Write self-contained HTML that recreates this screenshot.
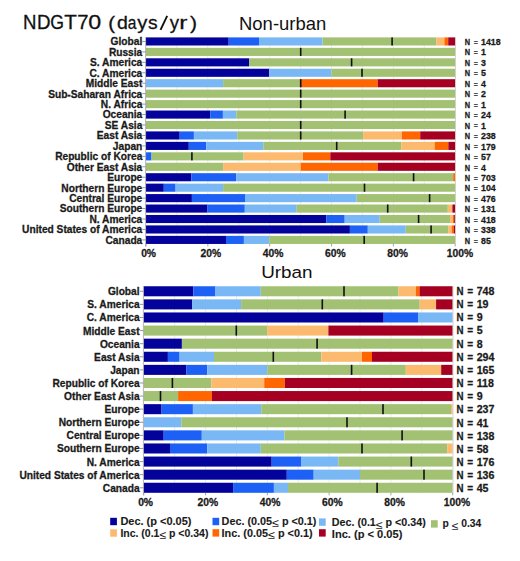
<!DOCTYPE html>
<html><head><meta charset="utf-8"><title>NDGT70</title>
<style>html,body{margin:0;padding:0;background:#fff;}svg{display:block;}
text{font-family:"Liberation Sans",sans-serif;}
text[font-weight="bold"]{stroke:#1a1a1a;stroke-width:0.28px;}
text.lg{stroke-width:0.1px;}</style></head>
<body>
<svg width="520" height="561" viewBox="0 0 520 561" font-family="Liberation Sans, sans-serif">
<rect width="520" height="561" fill="#fff"/>
<text transform="translate(23.07 28.95) scale(0.9548 1.0000)" font-size="19.5" fill="#111" stroke="#111" stroke-width="0.3">N</text>
<text transform="translate(36.96 28.95) scale(0.9611 1.0000)" font-size="19.5" fill="#111" stroke="#111" stroke-width="0.3">D</text>
<text transform="translate(50.31 28.95) scale(0.9034 1.0000)" font-size="19.5" fill="#111" stroke="#111" stroke-width="0.3">G</text>
<text transform="translate(64.14 28.95) scale(1.0521 1.0000)" font-size="19.5" fill="#111" stroke="#111" stroke-width="0.3">T</text>
<text transform="translate(77.26 28.95) scale(1.0378 1.0000)" font-size="19.5" fill="#111" stroke="#111" stroke-width="0.3">7</text>
<text transform="translate(88.29 28.95) scale(1.1908 1.0000)" font-size="19.5" fill="#111" stroke="#111" stroke-width="0.3">0</text>
<text transform="translate(108.34 28.65) scale(1.0445 0.9740)" font-size="19.5" fill="#111" stroke="#111" stroke-width="0.3">(</text>
<text transform="translate(116.88 28.95) scale(1.0035 0.9600)" font-size="19.5" fill="#111" stroke="#111" stroke-width="0.3">d</text>
<text transform="translate(127.84 28.95) scale(0.7987 0.9600)" font-size="19.5" fill="#111" stroke="#111" stroke-width="0.3">a</text>
<text transform="translate(137.25 29.2) scale(1.0347 0.9700)" font-size="19.5" fill="#111" stroke="#111" stroke-width="0.3">y</text>
<text transform="translate(148.06 28.95) scale(0.9879 0.9600)" font-size="19.5" fill="#111" stroke="#111" stroke-width="0.3">s</text>
<text transform="translate(169.65 29.2) scale(0.9520 0.9700)" font-size="19.5" fill="#111" stroke="#111" stroke-width="0.3">y</text>
<text transform="translate(179.28 28.95) scale(1.2513 0.9600)" font-size="19.5" fill="#111" stroke="#111" stroke-width="0.3">r</text>
<text transform="translate(189.88 28.65) scale(1.0831 0.9740)" font-size="19.5" fill="#111" stroke="#111" stroke-width="0.3">)</text>
<line x1="160.5" y1="29.9" x2="167.2" y2="15.9" stroke="#111" stroke-width="1.9"/>
<text x="239" y="29.9" font-size="17.9" textLength="87.3" lengthAdjust="spacingAndGlyphs" fill="#111">Non-urban</text>
<text x="261.2" y="277.9" font-size="17.4" textLength="51.4" lengthAdjust="spacingAndGlyphs" fill="#111">Urban</text>
<line x1="176.92" y1="37.4" x2="176.92" y2="243.96" stroke="#ebebeb" stroke-width="1"/>
<line x1="207.84" y1="37.4" x2="207.84" y2="243.96" stroke="#ebebeb" stroke-width="1"/>
<line x1="238.76" y1="37.4" x2="238.76" y2="243.96" stroke="#ebebeb" stroke-width="1"/>
<line x1="269.68" y1="37.4" x2="269.68" y2="243.96" stroke="#ebebeb" stroke-width="1"/>
<line x1="300.6" y1="37.4" x2="300.6" y2="243.96" stroke="#ebebeb" stroke-width="1"/>
<line x1="331.52" y1="37.4" x2="331.52" y2="243.96" stroke="#ebebeb" stroke-width="1"/>
<line x1="362.44" y1="37.4" x2="362.44" y2="243.96" stroke="#ebebeb" stroke-width="1"/>
<line x1="393.36" y1="37.4" x2="393.36" y2="243.96" stroke="#ebebeb" stroke-width="1"/>
<line x1="424.28" y1="37.4" x2="424.28" y2="243.96" stroke="#ebebeb" stroke-width="1"/>
<rect x="146" y="37.4" width="82.7" height="8.1" fill="#03039c"/>
<rect x="228.7" y="37.4" width="30.3" height="8.1" fill="#1c60f5"/>
<rect x="259" y="37.4" width="63.5" height="8.1" fill="#7ab8f5"/>
<rect x="322.5" y="37.4" width="114" height="8.1" fill="#a2c173"/>
<rect x="436.5" y="37.4" width="7.9" height="8.1" fill="#fcba6e"/>
<rect x="444.4" y="37.4" width="3.8" height="8.1" fill="#ff6600"/>
<rect x="448.2" y="37.4" width="7" height="8.1" fill="#a50021"/>
<rect x="391.3" y="37.4" width="1.6" height="8.1" fill="#111"/>
<line x1="142.3" y1="41.45" x2="146" y2="41.45" stroke="#8c8c8c" stroke-width="0.9"/>
<text x="142.3" y="45.35" font-size="10.2" font-weight="bold" text-anchor="end" fill="#1a1a1a">Global</text>
<text transform="translate(464.8 44.9) scale(0.84 1)" font-size="8.8" font-weight="bold" fill="#1a1a1a">N</text>
<text transform="translate(473.7 44.7) scale(0.8 1)" font-size="8.8" fill="#1a1a1a" stroke="#1a1a1a" stroke-width="0.25">=</text>
<text x="481.05" y="44.9" font-size="8.8" font-weight="bold" fill="#1a1a1a">1418</text>
<rect x="146" y="47.84" width="309.2" height="8.1" fill="#a2c173"/>
<rect x="299.9" y="47.84" width="1.6" height="8.1" fill="#111"/>
<line x1="142.3" y1="51.89" x2="146" y2="51.89" stroke="#8c8c8c" stroke-width="0.9"/>
<text x="142.3" y="55.79" font-size="10.2" font-weight="bold" text-anchor="end" fill="#1a1a1a">Russia</text>
<text transform="translate(464.8 55.37) scale(0.84 1)" font-size="8.8" font-weight="bold" fill="#1a1a1a">N</text>
<text transform="translate(473.7 55.17) scale(0.8 1)" font-size="8.8" fill="#1a1a1a" stroke="#1a1a1a" stroke-width="0.25">=</text>
<text x="481.05" y="55.37" font-size="8.8" font-weight="bold" fill="#1a1a1a">1</text>
<rect x="146" y="58.29" width="103" height="8.1" fill="#03039c"/>
<rect x="249" y="58.29" width="206.2" height="8.1" fill="#a2c173"/>
<rect x="350.8" y="58.29" width="1.6" height="8.1" fill="#111"/>
<line x1="142.3" y1="62.34" x2="146" y2="62.34" stroke="#8c8c8c" stroke-width="0.9"/>
<text x="142.3" y="66.24" font-size="10.2" font-weight="bold" text-anchor="end" fill="#1a1a1a">S. America</text>
<text transform="translate(464.8 65.84) scale(0.84 1)" font-size="8.8" font-weight="bold" fill="#1a1a1a">N</text>
<text transform="translate(473.7 65.64) scale(0.8 1)" font-size="8.8" fill="#1a1a1a" stroke="#1a1a1a" stroke-width="0.25">=</text>
<text x="481.05" y="65.84" font-size="8.8" font-weight="bold" fill="#1a1a1a">3</text>
<rect x="146" y="68.73" width="123.2" height="8.1" fill="#03039c"/>
<rect x="269.2" y="68.73" width="62.2" height="8.1" fill="#7ab8f5"/>
<rect x="331.4" y="68.73" width="123.8" height="8.1" fill="#a2c173"/>
<rect x="361.2" y="68.73" width="1.6" height="8.1" fill="#111"/>
<line x1="142.3" y1="72.78" x2="146" y2="72.78" stroke="#8c8c8c" stroke-width="0.9"/>
<text x="142.3" y="76.69" font-size="10.2" font-weight="bold" text-anchor="end" fill="#1a1a1a">C. America</text>
<text transform="translate(464.8 76.31) scale(0.84 1)" font-size="8.8" font-weight="bold" fill="#1a1a1a">N</text>
<text transform="translate(473.7 76.11) scale(0.8 1)" font-size="8.8" fill="#1a1a1a" stroke="#1a1a1a" stroke-width="0.25">=</text>
<text x="481.05" y="76.31" font-size="8.8" font-weight="bold" fill="#1a1a1a">5</text>
<rect x="146" y="79.18" width="77.1" height="8.1" fill="#7ab8f5"/>
<rect x="223.1" y="79.18" width="77.6" height="8.1" fill="#a2c173"/>
<rect x="300.7" y="79.18" width="77" height="8.1" fill="#ff6600"/>
<rect x="377.7" y="79.18" width="77.5" height="8.1" fill="#a50021"/>
<rect x="299.9" y="79.18" width="1.6" height="8.1" fill="#111"/>
<line x1="142.3" y1="83.23" x2="146" y2="83.23" stroke="#8c8c8c" stroke-width="0.9"/>
<text x="142.3" y="87.13" font-size="10.2" font-weight="bold" text-anchor="end" fill="#1a1a1a">Middle East</text>
<text transform="translate(464.8 86.78) scale(0.84 1)" font-size="8.8" font-weight="bold" fill="#1a1a1a">N</text>
<text transform="translate(473.7 86.58) scale(0.8 1)" font-size="8.8" fill="#1a1a1a" stroke="#1a1a1a" stroke-width="0.25">=</text>
<text x="481.05" y="86.78" font-size="8.8" font-weight="bold" fill="#1a1a1a">4</text>
<rect x="146" y="89.62" width="309.2" height="8.1" fill="#a2c173"/>
<rect x="299.9" y="89.62" width="1.6" height="8.1" fill="#111"/>
<line x1="142.3" y1="93.67" x2="146" y2="93.67" stroke="#8c8c8c" stroke-width="0.9"/>
<text x="142.3" y="97.58" font-size="10.2" font-weight="bold" text-anchor="end" fill="#1a1a1a">Sub-Saharan Africa</text>
<text transform="translate(464.8 97.25) scale(0.84 1)" font-size="8.8" font-weight="bold" fill="#1a1a1a">N</text>
<text transform="translate(473.7 97.05) scale(0.8 1)" font-size="8.8" fill="#1a1a1a" stroke="#1a1a1a" stroke-width="0.25">=</text>
<text x="481.05" y="97.25" font-size="8.8" font-weight="bold" fill="#1a1a1a">2</text>
<rect x="146" y="100.07" width="309.2" height="8.1" fill="#a2c173"/>
<rect x="299.9" y="100.07" width="1.6" height="8.1" fill="#111"/>
<line x1="142.3" y1="104.12" x2="146" y2="104.12" stroke="#8c8c8c" stroke-width="0.9"/>
<text x="142.3" y="108.02" font-size="10.2" font-weight="bold" text-anchor="end" fill="#1a1a1a">N. Africa</text>
<text transform="translate(464.8 107.72) scale(0.84 1)" font-size="8.8" font-weight="bold" fill="#1a1a1a">N</text>
<text transform="translate(473.7 107.52) scale(0.8 1)" font-size="8.8" fill="#1a1a1a" stroke="#1a1a1a" stroke-width="0.25">=</text>
<text x="481.05" y="107.72" font-size="8.8" font-weight="bold" fill="#1a1a1a">1</text>
<rect x="146" y="110.52" width="64.2" height="8.1" fill="#03039c"/>
<rect x="210.2" y="110.52" width="12.7" height="8.1" fill="#1c60f5"/>
<rect x="222.9" y="110.52" width="13.4" height="8.1" fill="#7ab8f5"/>
<rect x="236.3" y="110.52" width="218.9" height="8.1" fill="#a2c173"/>
<rect x="344.3" y="110.52" width="1.6" height="8.1" fill="#111"/>
<line x1="142.3" y1="114.57" x2="146" y2="114.57" stroke="#8c8c8c" stroke-width="0.9"/>
<text x="142.3" y="118.47" font-size="10.2" font-weight="bold" text-anchor="end" fill="#1a1a1a">Oceania</text>
<text transform="translate(464.8 118.19) scale(0.84 1)" font-size="8.8" font-weight="bold" fill="#1a1a1a">N</text>
<text transform="translate(473.7 117.99) scale(0.8 1)" font-size="8.8" fill="#1a1a1a" stroke="#1a1a1a" stroke-width="0.25">=</text>
<text x="481.05" y="118.19" font-size="8.8" font-weight="bold" fill="#1a1a1a">24</text>
<rect x="146" y="120.96" width="309.2" height="8.1" fill="#a2c173"/>
<rect x="299.9" y="120.96" width="1.6" height="8.1" fill="#111"/>
<line x1="142.3" y1="125.01" x2="146" y2="125.01" stroke="#8c8c8c" stroke-width="0.9"/>
<text x="142.3" y="128.91" font-size="10.2" font-weight="bold" text-anchor="end" fill="#1a1a1a">SE Asia</text>
<text transform="translate(464.8 128.66) scale(0.84 1)" font-size="8.8" font-weight="bold" fill="#1a1a1a">N</text>
<text transform="translate(473.7 128.46) scale(0.8 1)" font-size="8.8" fill="#1a1a1a" stroke="#1a1a1a" stroke-width="0.25">=</text>
<text x="481.05" y="128.66" font-size="8.8" font-weight="bold" fill="#1a1a1a">1</text>
<rect x="146" y="131.41" width="33.7" height="8.1" fill="#03039c"/>
<rect x="179.7" y="131.41" width="14.2" height="8.1" fill="#1c60f5"/>
<rect x="193.9" y="131.41" width="43.3" height="8.1" fill="#7ab8f5"/>
<rect x="237.2" y="131.41" width="125.9" height="8.1" fill="#a2c173"/>
<rect x="363.1" y="131.41" width="38.7" height="8.1" fill="#fcba6e"/>
<rect x="401.8" y="131.41" width="18.4" height="8.1" fill="#ff6600"/>
<rect x="420.2" y="131.41" width="35" height="8.1" fill="#a50021"/>
<rect x="299.9" y="131.41" width="1.6" height="8.1" fill="#111"/>
<line x1="142.3" y1="135.46" x2="146" y2="135.46" stroke="#8c8c8c" stroke-width="0.9"/>
<text x="142.3" y="139.36" font-size="10.2" font-weight="bold" text-anchor="end" fill="#1a1a1a">East Asia</text>
<text transform="translate(464.8 139.13) scale(0.84 1)" font-size="8.8" font-weight="bold" fill="#1a1a1a">N</text>
<text transform="translate(473.7 138.93) scale(0.8 1)" font-size="8.8" fill="#1a1a1a" stroke="#1a1a1a" stroke-width="0.25">=</text>
<text x="481.05" y="139.13" font-size="8.8" font-weight="bold" fill="#1a1a1a">238</text>
<rect x="146" y="141.85" width="42.8" height="8.1" fill="#03039c"/>
<rect x="188.8" y="141.85" width="17.4" height="8.1" fill="#1c60f5"/>
<rect x="206.2" y="141.85" width="57.1" height="8.1" fill="#7ab8f5"/>
<rect x="263.3" y="141.85" width="138.1" height="8.1" fill="#a2c173"/>
<rect x="401.4" y="141.85" width="33.2" height="8.1" fill="#fcba6e"/>
<rect x="434.6" y="141.85" width="13.7" height="8.1" fill="#ff6600"/>
<rect x="448.3" y="141.85" width="6.9" height="8.1" fill="#a50021"/>
<rect x="335.9" y="141.85" width="1.6" height="8.1" fill="#111"/>
<line x1="142.3" y1="145.9" x2="146" y2="145.9" stroke="#8c8c8c" stroke-width="0.9"/>
<text x="142.3" y="149.8" font-size="10.2" font-weight="bold" text-anchor="end" fill="#1a1a1a">Japan</text>
<text transform="translate(464.8 149.6) scale(0.84 1)" font-size="8.8" font-weight="bold" fill="#1a1a1a">N</text>
<text transform="translate(473.7 149.4) scale(0.8 1)" font-size="8.8" fill="#1a1a1a" stroke="#1a1a1a" stroke-width="0.25">=</text>
<text x="481.05" y="149.6" font-size="8.8" font-weight="bold" fill="#1a1a1a">179</text>
<rect x="146" y="152.3" width="5.5" height="8.1" fill="#1c60f5"/>
<rect x="151.5" y="152.3" width="92.1" height="8.1" fill="#a2c173"/>
<rect x="243.6" y="152.3" width="59.4" height="8.1" fill="#fcba6e"/>
<rect x="303" y="152.3" width="27.3" height="8.1" fill="#ff6600"/>
<rect x="330.3" y="152.3" width="124.9" height="8.1" fill="#a50021"/>
<rect x="191.1" y="152.3" width="1.6" height="8.1" fill="#111"/>
<line x1="142.3" y1="156.35" x2="146" y2="156.35" stroke="#8c8c8c" stroke-width="0.9"/>
<text x="142.3" y="160.25" font-size="10.2" font-weight="bold" text-anchor="end" fill="#1a1a1a">Republic of Korea</text>
<text transform="translate(464.8 160.07) scale(0.84 1)" font-size="8.8" font-weight="bold" fill="#1a1a1a">N</text>
<text transform="translate(473.7 159.87) scale(0.8 1)" font-size="8.8" fill="#1a1a1a" stroke="#1a1a1a" stroke-width="0.25">=</text>
<text x="481.05" y="160.07" font-size="8.8" font-weight="bold" fill="#1a1a1a">57</text>
<rect x="146" y="162.74" width="77.1" height="8.1" fill="#a2c173"/>
<rect x="223.1" y="162.74" width="77.6" height="8.1" fill="#fcba6e"/>
<rect x="300.7" y="162.74" width="77" height="8.1" fill="#ff6600"/>
<rect x="377.7" y="162.74" width="77.5" height="8.1" fill="#a50021"/>
<line x1="142.3" y1="166.79" x2="146" y2="166.79" stroke="#8c8c8c" stroke-width="0.9"/>
<text x="142.3" y="170.69" font-size="10.2" font-weight="bold" text-anchor="end" fill="#1a1a1a">Other East Asia</text>
<text transform="translate(464.8 170.54) scale(0.84 1)" font-size="8.8" font-weight="bold" fill="#1a1a1a">N</text>
<text transform="translate(473.7 170.34) scale(0.8 1)" font-size="8.8" fill="#1a1a1a" stroke="#1a1a1a" stroke-width="0.25">=</text>
<text x="481.05" y="170.54" font-size="8.8" font-weight="bold" fill="#1a1a1a">4</text>
<rect x="146" y="173.19" width="45.3" height="8.1" fill="#03039c"/>
<rect x="191.3" y="173.19" width="44.8" height="8.1" fill="#1c60f5"/>
<rect x="236.1" y="173.19" width="92.3" height="8.1" fill="#7ab8f5"/>
<rect x="328.4" y="173.19" width="124.8" height="8.1" fill="#a2c173"/>
<rect x="453.2" y="173.19" width="2" height="8.1" fill="#ff6600"/>
<rect x="412.8" y="173.19" width="1.6" height="8.1" fill="#111"/>
<line x1="142.3" y1="177.24" x2="146" y2="177.24" stroke="#8c8c8c" stroke-width="0.9"/>
<text x="142.3" y="181.14" font-size="10.2" font-weight="bold" text-anchor="end" fill="#1a1a1a">Europe</text>
<text transform="translate(464.8 181.01) scale(0.84 1)" font-size="8.8" font-weight="bold" fill="#1a1a1a">N</text>
<text transform="translate(473.7 180.81) scale(0.8 1)" font-size="8.8" fill="#1a1a1a" stroke="#1a1a1a" stroke-width="0.25">=</text>
<text x="481.05" y="181.01" font-size="8.8" font-weight="bold" fill="#1a1a1a">703</text>
<rect x="146" y="183.63" width="17.8" height="8.1" fill="#03039c"/>
<rect x="163.8" y="183.63" width="11.8" height="8.1" fill="#1c60f5"/>
<rect x="175.6" y="183.63" width="47.5" height="8.1" fill="#7ab8f5"/>
<rect x="223.1" y="183.63" width="232.1" height="8.1" fill="#a2c173"/>
<rect x="363.7" y="183.63" width="1.6" height="8.1" fill="#111"/>
<line x1="142.3" y1="187.68" x2="146" y2="187.68" stroke="#8c8c8c" stroke-width="0.9"/>
<text x="142.3" y="191.58" font-size="10.2" font-weight="bold" text-anchor="end" fill="#1a1a1a">Northern Europe</text>
<text transform="translate(464.8 191.48) scale(0.84 1)" font-size="8.8" font-weight="bold" fill="#1a1a1a">N</text>
<text transform="translate(473.7 191.28) scale(0.8 1)" font-size="8.8" fill="#1a1a1a" stroke="#1a1a1a" stroke-width="0.25">=</text>
<text x="481.05" y="191.48" font-size="8.8" font-weight="bold" fill="#1a1a1a">104</text>
<rect x="146" y="194.08" width="45.9" height="8.1" fill="#03039c"/>
<rect x="191.9" y="194.08" width="53.1" height="8.1" fill="#1c60f5"/>
<rect x="245" y="194.08" width="111.7" height="8.1" fill="#7ab8f5"/>
<rect x="356.7" y="194.08" width="98.5" height="8.1" fill="#a2c173"/>
<rect x="428.8" y="194.08" width="1.6" height="8.1" fill="#111"/>
<line x1="142.3" y1="198.13" x2="146" y2="198.13" stroke="#8c8c8c" stroke-width="0.9"/>
<text x="142.3" y="202.03" font-size="10.2" font-weight="bold" text-anchor="end" fill="#1a1a1a">Central Europe</text>
<text transform="translate(464.8 201.95) scale(0.84 1)" font-size="8.8" font-weight="bold" fill="#1a1a1a">N</text>
<text transform="translate(473.7 201.75) scale(0.8 1)" font-size="8.8" fill="#1a1a1a" stroke="#1a1a1a" stroke-width="0.25">=</text>
<text x="481.05" y="201.95" font-size="8.8" font-weight="bold" fill="#1a1a1a">476</text>
<rect x="146" y="204.52" width="61.2" height="8.1" fill="#03039c"/>
<rect x="207.2" y="204.52" width="37.6" height="8.1" fill="#1c60f5"/>
<rect x="244.8" y="204.52" width="51.9" height="8.1" fill="#7ab8f5"/>
<rect x="296.7" y="204.52" width="151.1" height="8.1" fill="#a2c173"/>
<rect x="447.8" y="204.52" width="4.6" height="8.1" fill="#fcba6e"/>
<rect x="452.4" y="204.52" width="2.8" height="8.1" fill="#a50021"/>
<rect x="386.9" y="204.52" width="1.6" height="8.1" fill="#111"/>
<line x1="142.3" y1="208.57" x2="146" y2="208.57" stroke="#8c8c8c" stroke-width="0.9"/>
<text x="142.3" y="212.47" font-size="10.2" font-weight="bold" text-anchor="end" fill="#1a1a1a">Southern Europe</text>
<text transform="translate(464.8 212.42) scale(0.84 1)" font-size="8.8" font-weight="bold" fill="#1a1a1a">N</text>
<text transform="translate(473.7 212.22) scale(0.8 1)" font-size="8.8" fill="#1a1a1a" stroke="#1a1a1a" stroke-width="0.25">=</text>
<text x="481.05" y="212.42" font-size="8.8" font-weight="bold" fill="#1a1a1a">131</text>
<rect x="146" y="214.97" width="180.3" height="8.1" fill="#03039c"/>
<rect x="326.3" y="214.97" width="18.4" height="8.1" fill="#1c60f5"/>
<rect x="344.7" y="214.97" width="35" height="8.1" fill="#7ab8f5"/>
<rect x="379.7" y="214.97" width="70.3" height="8.1" fill="#a2c173"/>
<rect x="450" y="214.97" width="2.8" height="8.1" fill="#fcba6e"/>
<rect x="452.8" y="214.97" width="1.4" height="8.1" fill="#ff6600"/>
<rect x="454.2" y="214.97" width="1" height="8.1" fill="#a50021"/>
<rect x="417.8" y="214.97" width="1.6" height="8.1" fill="#111"/>
<line x1="142.3" y1="219.02" x2="146" y2="219.02" stroke="#8c8c8c" stroke-width="0.9"/>
<text x="142.3" y="222.92" font-size="10.2" font-weight="bold" text-anchor="end" fill="#1a1a1a">N. America</text>
<text transform="translate(464.8 222.89) scale(0.84 1)" font-size="8.8" font-weight="bold" fill="#1a1a1a">N</text>
<text transform="translate(473.7 222.69) scale(0.8 1)" font-size="8.8" fill="#1a1a1a" stroke="#1a1a1a" stroke-width="0.25">=</text>
<text x="481.05" y="222.89" font-size="8.8" font-weight="bold" fill="#1a1a1a">418</text>
<rect x="146" y="225.41" width="203.9" height="8.1" fill="#03039c"/>
<rect x="349.9" y="225.41" width="17.9" height="8.1" fill="#1c60f5"/>
<rect x="367.8" y="225.41" width="38" height="8.1" fill="#7ab8f5"/>
<rect x="405.8" y="225.41" width="42.4" height="8.1" fill="#a2c173"/>
<rect x="448.2" y="225.41" width="3.5" height="8.1" fill="#fcba6e"/>
<rect x="451.7" y="225.41" width="2.2" height="8.1" fill="#ff6600"/>
<rect x="453.9" y="225.41" width="1.3" height="8.1" fill="#a50021"/>
<rect x="430.3" y="225.41" width="1.6" height="8.1" fill="#111"/>
<line x1="142.3" y1="229.46" x2="146" y2="229.46" stroke="#8c8c8c" stroke-width="0.9"/>
<text x="142.3" y="233.36" font-size="10.2" font-weight="bold" text-anchor="end" fill="#1a1a1a">United States of America</text>
<text transform="translate(464.8 233.36) scale(0.84 1)" font-size="8.8" font-weight="bold" fill="#1a1a1a">N</text>
<text transform="translate(473.7 233.16) scale(0.8 1)" font-size="8.8" fill="#1a1a1a" stroke="#1a1a1a" stroke-width="0.25">=</text>
<text x="481.05" y="233.36" font-size="8.8" font-weight="bold" fill="#1a1a1a">338</text>
<rect x="146" y="235.86" width="80" height="8.1" fill="#03039c"/>
<rect x="226" y="235.86" width="17.9" height="8.1" fill="#1c60f5"/>
<rect x="243.9" y="235.86" width="25.3" height="8.1" fill="#7ab8f5"/>
<rect x="269.2" y="235.86" width="186" height="8.1" fill="#a2c173"/>
<rect x="363.4" y="235.86" width="1.6" height="8.1" fill="#111"/>
<line x1="142.3" y1="239.91" x2="146" y2="239.91" stroke="#8c8c8c" stroke-width="0.9"/>
<text x="142.3" y="243.81" font-size="10.2" font-weight="bold" text-anchor="end" fill="#1a1a1a">Canada</text>
<text transform="translate(464.8 243.83) scale(0.84 1)" font-size="8.8" font-weight="bold" fill="#1a1a1a">N</text>
<text transform="translate(473.7 243.63) scale(0.8 1)" font-size="8.8" fill="#1a1a1a" stroke="#1a1a1a" stroke-width="0.25">=</text>
<text x="481.05" y="243.83" font-size="8.8" font-weight="bold" fill="#1a1a1a">85</text>
<line x1="145.6" y1="37.1" x2="145.6" y2="246.46" stroke="#a0a0a0" stroke-width="0.8"/>
<line x1="455.5" y1="37.4" x2="455.5" y2="243.96" stroke="#c8c8c8" stroke-width="0.8"/>
<line x1="146" y1="243.96" x2="146" y2="246.46" stroke="#9a9a9a" stroke-width="0.9"/>
<line x1="207.84" y1="243.96" x2="207.84" y2="246.46" stroke="#9a9a9a" stroke-width="0.9"/>
<line x1="269.68" y1="243.96" x2="269.68" y2="246.46" stroke="#9a9a9a" stroke-width="0.9"/>
<line x1="331.52" y1="243.96" x2="331.52" y2="246.46" stroke="#9a9a9a" stroke-width="0.9"/>
<line x1="393.36" y1="243.96" x2="393.36" y2="246.46" stroke="#9a9a9a" stroke-width="0.9"/>
<line x1="455.2" y1="243.96" x2="455.2" y2="246.46" stroke="#9a9a9a" stroke-width="0.9"/>
<text x="148.6" y="256.6" font-size="10.3" font-weight="bold" text-anchor="middle" fill="#1a1a1a">0%</text>
<text x="210.86" y="256.6" font-size="10.3" font-weight="bold" text-anchor="middle" fill="#1a1a1a">20%</text>
<text x="273.12" y="256.6" font-size="10.3" font-weight="bold" text-anchor="middle" fill="#1a1a1a">40%</text>
<text x="335.38" y="256.6" font-size="10.3" font-weight="bold" text-anchor="middle" fill="#1a1a1a">60%</text>
<text x="397.64" y="256.6" font-size="10.3" font-weight="bold" text-anchor="middle" fill="#1a1a1a">80%</text>
<text x="459.9" y="256.6" font-size="10.3" font-weight="bold" text-anchor="middle" fill="#1a1a1a">100%</text>
<line x1="174.69" y1="286.25" x2="174.69" y2="492.8" stroke="#ebebeb" stroke-width="1"/>
<line x1="205.58" y1="286.25" x2="205.58" y2="492.8" stroke="#ebebeb" stroke-width="1"/>
<line x1="236.47" y1="286.25" x2="236.47" y2="492.8" stroke="#ebebeb" stroke-width="1"/>
<line x1="267.36" y1="286.25" x2="267.36" y2="492.8" stroke="#ebebeb" stroke-width="1"/>
<line x1="298.25" y1="286.25" x2="298.25" y2="492.8" stroke="#ebebeb" stroke-width="1"/>
<line x1="329.14" y1="286.25" x2="329.14" y2="492.8" stroke="#ebebeb" stroke-width="1"/>
<line x1="360.03" y1="286.25" x2="360.03" y2="492.8" stroke="#ebebeb" stroke-width="1"/>
<line x1="390.92" y1="286.25" x2="390.92" y2="492.8" stroke="#ebebeb" stroke-width="1"/>
<line x1="421.81" y1="286.25" x2="421.81" y2="492.8" stroke="#ebebeb" stroke-width="1"/>
<rect x="143.8" y="286.25" width="49.5" height="10.05" fill="#03039c"/>
<rect x="193.3" y="286.25" width="22.2" height="10.05" fill="#1c60f5"/>
<rect x="215.5" y="286.25" width="45.3" height="10.05" fill="#7ab8f5"/>
<rect x="260.8" y="286.25" width="137.7" height="10.05" fill="#a2c173"/>
<rect x="398.5" y="286.25" width="17.3" height="10.05" fill="#fcba6e"/>
<rect x="415.8" y="286.25" width="3.7" height="10.05" fill="#ff6600"/>
<rect x="419.5" y="286.25" width="33.2" height="10.05" fill="#a50021"/>
<rect x="343.2" y="286.25" width="1.6" height="10.05" fill="#111"/>
<line x1="140" y1="291.27" x2="143.8" y2="291.27" stroke="#8c8c8c" stroke-width="0.9"/>
<text x="139.6" y="295.27" font-size="10.2" font-weight="bold" text-anchor="end" fill="#1a1a1a">Global</text>
<text transform="translate(456.45 294.85) scale(0.92 1)" font-size="10.6" font-weight="bold" fill="#1a1a1a">N</text>
<text transform="translate(467.18 294.85) scale(0.95 1)" font-size="10.6" font-weight="bold" fill="#1a1a1a">=</text>
<text x="476.72" y="294.85" font-size="10.6" font-weight="bold" fill="#1a1a1a">748</text>
<rect x="143.8" y="299.35" width="48.5" height="10.05" fill="#03039c"/>
<rect x="192.3" y="299.35" width="48.8" height="10.05" fill="#7ab8f5"/>
<rect x="241.1" y="299.35" width="178.6" height="10.05" fill="#a2c173"/>
<rect x="419.7" y="299.35" width="16.4" height="10.05" fill="#fcba6e"/>
<rect x="436.1" y="299.35" width="16.6" height="10.05" fill="#a50021"/>
<rect x="321.5" y="299.35" width="1.6" height="10.05" fill="#111"/>
<line x1="140" y1="304.38" x2="143.8" y2="304.38" stroke="#8c8c8c" stroke-width="0.9"/>
<text x="139.6" y="308.38" font-size="10.2" font-weight="bold" text-anchor="end" fill="#1a1a1a">S. America</text>
<text transform="translate(456.45 308.02) scale(0.92 1)" font-size="10.6" font-weight="bold" fill="#1a1a1a">N</text>
<text transform="translate(467.18 308.02) scale(0.95 1)" font-size="10.6" font-weight="bold" fill="#1a1a1a">=</text>
<text x="476.72" y="308.02" font-size="10.6" font-weight="bold" fill="#1a1a1a">19</text>
<rect x="143.8" y="312.45" width="239.9" height="10.05" fill="#03039c"/>
<rect x="383.7" y="312.45" width="34.3" height="10.05" fill="#1c60f5"/>
<rect x="418" y="312.45" width="34.7" height="10.05" fill="#7ab8f5"/>
<line x1="140" y1="317.47" x2="143.8" y2="317.47" stroke="#8c8c8c" stroke-width="0.9"/>
<text x="139.6" y="321.47" font-size="10.2" font-weight="bold" text-anchor="end" fill="#1a1a1a">C. America</text>
<text transform="translate(456.45 321.18) scale(0.92 1)" font-size="10.6" font-weight="bold" fill="#1a1a1a">N</text>
<text transform="translate(467.18 321.18) scale(0.95 1)" font-size="10.6" font-weight="bold" fill="#1a1a1a">=</text>
<text x="476.72" y="321.18" font-size="10.6" font-weight="bold" fill="#1a1a1a">9</text>
<rect x="143.8" y="325.55" width="123.4" height="10.05" fill="#a2c173"/>
<rect x="267.2" y="325.55" width="61.2" height="10.05" fill="#fcba6e"/>
<rect x="328.4" y="325.55" width="124.3" height="10.05" fill="#a50021"/>
<rect x="235.5" y="325.55" width="1.6" height="10.05" fill="#111"/>
<line x1="140" y1="330.57" x2="143.8" y2="330.57" stroke="#8c8c8c" stroke-width="0.9"/>
<text x="139.6" y="334.57" font-size="10.2" font-weight="bold" text-anchor="end" fill="#1a1a1a">Middle East</text>
<text transform="translate(456.45 334.35) scale(0.92 1)" font-size="10.6" font-weight="bold" fill="#1a1a1a">N</text>
<text transform="translate(467.18 334.35) scale(0.95 1)" font-size="10.6" font-weight="bold" fill="#1a1a1a">=</text>
<text x="476.72" y="334.35" font-size="10.6" font-weight="bold" fill="#1a1a1a">5</text>
<rect x="143.8" y="338.65" width="38.1" height="10.05" fill="#03039c"/>
<rect x="181.9" y="338.65" width="270.8" height="10.05" fill="#a2c173"/>
<rect x="316.3" y="338.65" width="1.6" height="10.05" fill="#111"/>
<line x1="140" y1="343.67" x2="143.8" y2="343.67" stroke="#8c8c8c" stroke-width="0.9"/>
<text x="139.6" y="347.67" font-size="10.2" font-weight="bold" text-anchor="end" fill="#1a1a1a">Oceania</text>
<text transform="translate(456.45 347.51) scale(0.92 1)" font-size="10.6" font-weight="bold" fill="#1a1a1a">N</text>
<text transform="translate(467.18 347.51) scale(0.95 1)" font-size="10.6" font-weight="bold" fill="#1a1a1a">=</text>
<text x="476.72" y="347.51" font-size="10.6" font-weight="bold" fill="#1a1a1a">8</text>
<rect x="143.8" y="351.75" width="24.1" height="10.05" fill="#03039c"/>
<rect x="167.9" y="351.75" width="11.7" height="10.05" fill="#1c60f5"/>
<rect x="179.6" y="351.75" width="34.4" height="10.05" fill="#7ab8f5"/>
<rect x="214" y="351.75" width="107.3" height="10.05" fill="#a2c173"/>
<rect x="321.3" y="351.75" width="40.7" height="10.05" fill="#fcba6e"/>
<rect x="362" y="351.75" width="10" height="10.05" fill="#ff6600"/>
<rect x="372" y="351.75" width="80.7" height="10.05" fill="#a50021"/>
<rect x="272.5" y="351.75" width="1.6" height="10.05" fill="#111"/>
<line x1="140" y1="356.77" x2="143.8" y2="356.77" stroke="#8c8c8c" stroke-width="0.9"/>
<text x="139.6" y="360.77" font-size="10.2" font-weight="bold" text-anchor="end" fill="#1a1a1a">East Asia</text>
<text transform="translate(456.45 360.68) scale(0.92 1)" font-size="10.6" font-weight="bold" fill="#1a1a1a">N</text>
<text transform="translate(467.18 360.68) scale(0.95 1)" font-size="10.6" font-weight="bold" fill="#1a1a1a">=</text>
<text x="476.72" y="360.68" font-size="10.6" font-weight="bold" fill="#1a1a1a">294</text>
<rect x="143.8" y="364.85" width="42.7" height="10.05" fill="#03039c"/>
<rect x="186.5" y="364.85" width="20.8" height="10.05" fill="#1c60f5"/>
<rect x="207.3" y="364.85" width="59.9" height="10.05" fill="#7ab8f5"/>
<rect x="267.2" y="364.85" width="138.6" height="10.05" fill="#a2c173"/>
<rect x="405.8" y="364.85" width="35.4" height="10.05" fill="#fcba6e"/>
<rect x="441.2" y="364.85" width="11.5" height="10.05" fill="#a50021"/>
<rect x="350.8" y="364.85" width="1.6" height="10.05" fill="#111"/>
<line x1="140" y1="369.88" x2="143.8" y2="369.88" stroke="#8c8c8c" stroke-width="0.9"/>
<text x="139.6" y="373.88" font-size="10.2" font-weight="bold" text-anchor="end" fill="#1a1a1a">Japan</text>
<text transform="translate(456.45 373.84) scale(0.92 1)" font-size="10.6" font-weight="bold" fill="#1a1a1a">N</text>
<text transform="translate(467.18 373.84) scale(0.95 1)" font-size="10.6" font-weight="bold" fill="#1a1a1a">=</text>
<text x="476.72" y="373.84" font-size="10.6" font-weight="bold" fill="#1a1a1a">165</text>
<rect x="143.8" y="377.95" width="67.5" height="10.05" fill="#a2c173"/>
<rect x="211.3" y="377.95" width="52.9" height="10.05" fill="#fcba6e"/>
<rect x="264.2" y="377.95" width="20.6" height="10.05" fill="#ff6600"/>
<rect x="284.8" y="377.95" width="167.9" height="10.05" fill="#a50021"/>
<rect x="171.6" y="377.95" width="1.6" height="10.05" fill="#111"/>
<line x1="140" y1="382.97" x2="143.8" y2="382.97" stroke="#8c8c8c" stroke-width="0.9"/>
<text x="139.6" y="386.97" font-size="10.2" font-weight="bold" text-anchor="end" fill="#1a1a1a">Republic of Korea</text>
<text transform="translate(456.45 387) scale(0.92 1)" font-size="10.6" font-weight="bold" fill="#1a1a1a">N</text>
<text transform="translate(467.18 387) scale(0.95 1)" font-size="10.6" font-weight="bold" fill="#1a1a1a">=</text>
<text x="476.72" y="387" font-size="10.6" font-weight="bold" fill="#1a1a1a">118</text>
<rect x="143.8" y="391.05" width="34.3" height="10.05" fill="#a2c173"/>
<rect x="178.1" y="391.05" width="33.8" height="10.05" fill="#ff6600"/>
<rect x="211.9" y="391.05" width="240.8" height="10.05" fill="#a50021"/>
<rect x="159.7" y="391.05" width="1.6" height="10.05" fill="#111"/>
<line x1="140" y1="396.07" x2="143.8" y2="396.07" stroke="#8c8c8c" stroke-width="0.9"/>
<text x="139.6" y="400.07" font-size="10.2" font-weight="bold" text-anchor="end" fill="#1a1a1a">Other East Asia</text>
<text transform="translate(456.45 400.17) scale(0.92 1)" font-size="10.6" font-weight="bold" fill="#1a1a1a">N</text>
<text transform="translate(467.18 400.17) scale(0.95 1)" font-size="10.6" font-weight="bold" fill="#1a1a1a">=</text>
<text x="476.72" y="400.17" font-size="10.6" font-weight="bold" fill="#1a1a1a">9</text>
<rect x="143.8" y="404.15" width="17.8" height="10.05" fill="#03039c"/>
<rect x="161.6" y="404.15" width="31.3" height="10.05" fill="#1c60f5"/>
<rect x="192.9" y="404.15" width="68.3" height="10.05" fill="#7ab8f5"/>
<rect x="261.2" y="404.15" width="189.8" height="10.05" fill="#a2c173"/>
<rect x="451" y="404.15" width="1.7" height="10.05" fill="#fcba6e"/>
<rect x="382.2" y="404.15" width="1.6" height="10.05" fill="#111"/>
<line x1="140" y1="409.17" x2="143.8" y2="409.17" stroke="#8c8c8c" stroke-width="0.9"/>
<text x="139.6" y="413.17" font-size="10.2" font-weight="bold" text-anchor="end" fill="#1a1a1a">Europe</text>
<text transform="translate(456.45 413.34) scale(0.92 1)" font-size="10.6" font-weight="bold" fill="#1a1a1a">N</text>
<text transform="translate(467.18 413.34) scale(0.95 1)" font-size="10.6" font-weight="bold" fill="#1a1a1a">=</text>
<text x="476.72" y="413.34" font-size="10.6" font-weight="bold" fill="#1a1a1a">237</text>
<rect x="143.8" y="417.25" width="37.5" height="10.05" fill="#7ab8f5"/>
<rect x="181.3" y="417.25" width="271.4" height="10.05" fill="#a2c173"/>
<rect x="346.2" y="417.25" width="1.6" height="10.05" fill="#111"/>
<line x1="140" y1="422.27" x2="143.8" y2="422.27" stroke="#8c8c8c" stroke-width="0.9"/>
<text x="139.6" y="426.27" font-size="10.2" font-weight="bold" text-anchor="end" fill="#1a1a1a">Northern Europe</text>
<text transform="translate(456.45 426.5) scale(0.92 1)" font-size="10.6" font-weight="bold" fill="#1a1a1a">N</text>
<text transform="translate(467.18 426.5) scale(0.95 1)" font-size="10.6" font-weight="bold" fill="#1a1a1a">=</text>
<text x="476.72" y="426.5" font-size="10.6" font-weight="bold" fill="#1a1a1a">41</text>
<rect x="143.8" y="430.35" width="19.9" height="10.05" fill="#03039c"/>
<rect x="163.7" y="430.35" width="38.1" height="10.05" fill="#1c60f5"/>
<rect x="201.8" y="430.35" width="82.6" height="10.05" fill="#7ab8f5"/>
<rect x="284.4" y="430.35" width="168.3" height="10.05" fill="#a2c173"/>
<rect x="401.3" y="430.35" width="1.6" height="10.05" fill="#111"/>
<line x1="140" y1="435.38" x2="143.8" y2="435.38" stroke="#8c8c8c" stroke-width="0.9"/>
<text x="139.6" y="439.38" font-size="10.2" font-weight="bold" text-anchor="end" fill="#1a1a1a">Central Europe</text>
<text transform="translate(456.45 439.67) scale(0.92 1)" font-size="10.6" font-weight="bold" fill="#1a1a1a">N</text>
<text transform="translate(467.18 439.67) scale(0.95 1)" font-size="10.6" font-weight="bold" fill="#1a1a1a">=</text>
<text x="476.72" y="439.67" font-size="10.6" font-weight="bold" fill="#1a1a1a">138</text>
<rect x="143.8" y="443.45" width="26.2" height="10.05" fill="#03039c"/>
<rect x="170" y="443.45" width="37.3" height="10.05" fill="#1c60f5"/>
<rect x="207.3" y="443.45" width="53.5" height="10.05" fill="#7ab8f5"/>
<rect x="260.8" y="443.45" width="186.4" height="10.05" fill="#a2c173"/>
<rect x="447.2" y="443.45" width="5.5" height="10.05" fill="#fcba6e"/>
<rect x="361.2" y="443.45" width="1.6" height="10.05" fill="#111"/>
<line x1="140" y1="448.47" x2="143.8" y2="448.47" stroke="#8c8c8c" stroke-width="0.9"/>
<text x="139.6" y="452.47" font-size="10.2" font-weight="bold" text-anchor="end" fill="#1a1a1a">Southern Europe</text>
<text transform="translate(456.45 452.83) scale(0.92 1)" font-size="10.6" font-weight="bold" fill="#1a1a1a">N</text>
<text transform="translate(467.18 452.83) scale(0.95 1)" font-size="10.6" font-weight="bold" fill="#1a1a1a">=</text>
<text x="476.72" y="452.83" font-size="10.6" font-weight="bold" fill="#1a1a1a">58</text>
<rect x="143.8" y="456.55" width="127.9" height="10.05" fill="#03039c"/>
<rect x="271.7" y="456.55" width="29.8" height="10.05" fill="#1c60f5"/>
<rect x="301.5" y="456.55" width="36.8" height="10.05" fill="#7ab8f5"/>
<rect x="338.3" y="456.55" width="114.4" height="10.05" fill="#a2c173"/>
<rect x="410.5" y="456.55" width="1.6" height="10.05" fill="#111"/>
<line x1="140" y1="461.57" x2="143.8" y2="461.57" stroke="#8c8c8c" stroke-width="0.9"/>
<text x="139.6" y="465.57" font-size="10.2" font-weight="bold" text-anchor="end" fill="#1a1a1a">N. America</text>
<text transform="translate(456.45 466) scale(0.92 1)" font-size="10.6" font-weight="bold" fill="#1a1a1a">N</text>
<text transform="translate(467.18 466) scale(0.95 1)" font-size="10.6" font-weight="bold" fill="#1a1a1a">=</text>
<text x="476.72" y="466" font-size="10.6" font-weight="bold" fill="#1a1a1a">176</text>
<rect x="143.8" y="469.65" width="143" height="10.05" fill="#03039c"/>
<rect x="286.8" y="469.65" width="26.9" height="10.05" fill="#1c60f5"/>
<rect x="313.7" y="469.65" width="46.3" height="10.05" fill="#7ab8f5"/>
<rect x="360" y="469.65" width="92.7" height="10.05" fill="#a2c173"/>
<rect x="423.2" y="469.65" width="1.6" height="10.05" fill="#111"/>
<line x1="140" y1="474.67" x2="143.8" y2="474.67" stroke="#8c8c8c" stroke-width="0.9"/>
<text x="139.6" y="478.67" font-size="10.2" font-weight="bold" text-anchor="end" fill="#1a1a1a">United States of America</text>
<text transform="translate(456.45 479.16) scale(0.92 1)" font-size="10.6" font-weight="bold" fill="#1a1a1a">N</text>
<text transform="translate(467.18 479.16) scale(0.95 1)" font-size="10.6" font-weight="bold" fill="#1a1a1a">=</text>
<text x="476.72" y="479.16" font-size="10.6" font-weight="bold" fill="#1a1a1a">136</text>
<rect x="143.8" y="482.75" width="89.3" height="10.05" fill="#03039c"/>
<rect x="233.1" y="482.75" width="40.8" height="10.05" fill="#1c60f5"/>
<rect x="273.9" y="482.75" width="14.1" height="10.05" fill="#7ab8f5"/>
<rect x="288" y="482.75" width="164.7" height="10.05" fill="#a2c173"/>
<rect x="376.3" y="482.75" width="1.6" height="10.05" fill="#111"/>
<line x1="140" y1="487.77" x2="143.8" y2="487.77" stroke="#8c8c8c" stroke-width="0.9"/>
<text x="139.6" y="491.77" font-size="10.2" font-weight="bold" text-anchor="end" fill="#1a1a1a">Canada</text>
<text transform="translate(456.45 492.33) scale(0.92 1)" font-size="10.6" font-weight="bold" fill="#1a1a1a">N</text>
<text transform="translate(467.18 492.33) scale(0.95 1)" font-size="10.6" font-weight="bold" fill="#1a1a1a">=</text>
<text x="476.72" y="492.33" font-size="10.6" font-weight="bold" fill="#1a1a1a">45</text>
<line x1="143.4" y1="285.95" x2="143.4" y2="495.3" stroke="#a0a0a0" stroke-width="0.8"/>
<line x1="453" y1="286.25" x2="453" y2="492.8" stroke="#c8c8c8" stroke-width="0.8"/>
<line x1="143.8" y1="492.8" x2="143.8" y2="495.3" stroke="#9a9a9a" stroke-width="0.9"/>
<line x1="205.58" y1="492.8" x2="205.58" y2="495.3" stroke="#9a9a9a" stroke-width="0.9"/>
<line x1="267.36" y1="492.8" x2="267.36" y2="495.3" stroke="#9a9a9a" stroke-width="0.9"/>
<line x1="329.14" y1="492.8" x2="329.14" y2="495.3" stroke="#9a9a9a" stroke-width="0.9"/>
<line x1="390.92" y1="492.8" x2="390.92" y2="495.3" stroke="#9a9a9a" stroke-width="0.9"/>
<line x1="452.7" y1="492.8" x2="452.7" y2="495.3" stroke="#9a9a9a" stroke-width="0.9"/>
<text x="145.6" y="505.6" font-size="10.3" font-weight="bold" text-anchor="middle" fill="#1a1a1a">0%</text>
<text x="207.86" y="505.6" font-size="10.3" font-weight="bold" text-anchor="middle" fill="#1a1a1a">20%</text>
<text x="270.12" y="505.6" font-size="10.3" font-weight="bold" text-anchor="middle" fill="#1a1a1a">40%</text>
<text x="332.38" y="505.6" font-size="10.3" font-weight="bold" text-anchor="middle" fill="#1a1a1a">60%</text>
<text x="394.64" y="505.6" font-size="10.3" font-weight="bold" text-anchor="middle" fill="#1a1a1a">80%</text>
<text x="456.9" y="505.6" font-size="10.3" font-weight="bold" text-anchor="middle" fill="#1a1a1a">100%</text>
<rect x="110.2" y="517.8" width="6.7" height="7.4" fill="#03039c"/>
<text class="lg" x="120.4" y="524.6" font-size="10" font-weight="bold" textLength="71" lengthAdjust="spacingAndGlyphs" fill="#1a1a1a">Dec. (p &lt;0.05)</text>
<rect x="212.5" y="517.8" width="6.7" height="7.4" fill="#1c60f5"/>
<text class="lg" x="221.6" y="524.7" font-size="10" font-weight="bold" textLength="94.9" lengthAdjust="spacingAndGlyphs" fill="#1a1a1a">Dec. (0.05<tspan font-size="11.6" font-weight="normal" stroke-width="0" dy="2.6">≤</tspan><tspan dy="-2.6"> p &lt;0.1)</tspan></text>
<rect x="319" y="518.4" width="6.7" height="7.4" fill="#7ab8f5"/>
<text class="lg" x="331.8" y="526" font-size="10" font-weight="bold" textLength="94" lengthAdjust="spacingAndGlyphs" fill="#1a1a1a">Dec. (0.1<tspan font-size="11.6" font-weight="normal" stroke-width="0" dy="2.6">≤</tspan><tspan dy="-2.6"> p &lt;0.34)</tspan></text>
<rect x="431" y="520.2" width="6.7" height="7.4" fill="#a2c173"/>
<text class="lg" x="442.6" y="527.3" font-size="10" font-weight="bold" textLength="38.6" lengthAdjust="spacingAndGlyphs" fill="#1a1a1a">p <tspan font-size="11.6" font-weight="normal" stroke-width="0" dy="2.6">≤</tspan><tspan dy="-2.6"> 0.34</tspan></text>
<rect x="110.2" y="529.3" width="6.7" height="7.4" fill="#fcba6e"/>
<text class="lg" x="120.4" y="536.8" font-size="10" font-weight="bold" textLength="88" lengthAdjust="spacingAndGlyphs" fill="#1a1a1a">Inc. (0.1<tspan font-size="11.6" font-weight="normal" stroke-width="0" dy="2.6">≤</tspan><tspan dy="-2.6"> p &lt;0.34)</tspan></text>
<rect x="212.5" y="529.2" width="6.7" height="7.4" fill="#ff6600"/>
<text class="lg" x="221.6" y="536.8" font-size="10" font-weight="bold" textLength="91" lengthAdjust="spacingAndGlyphs" fill="#1a1a1a">Inc. (0.05<tspan font-size="11.6" font-weight="normal" stroke-width="0" dy="2.6">≤</tspan><tspan dy="-2.6"> p &lt;0.1)</tspan></text>
<rect x="319" y="529.2" width="6.7" height="7.4" fill="#a50021"/>
<text class="lg" x="331.8" y="537.6" font-size="10" font-weight="bold" textLength="70.6" lengthAdjust="spacingAndGlyphs" fill="#1a1a1a">Inc. (p &lt; 0.05)</text>
</svg>
</body></html>
